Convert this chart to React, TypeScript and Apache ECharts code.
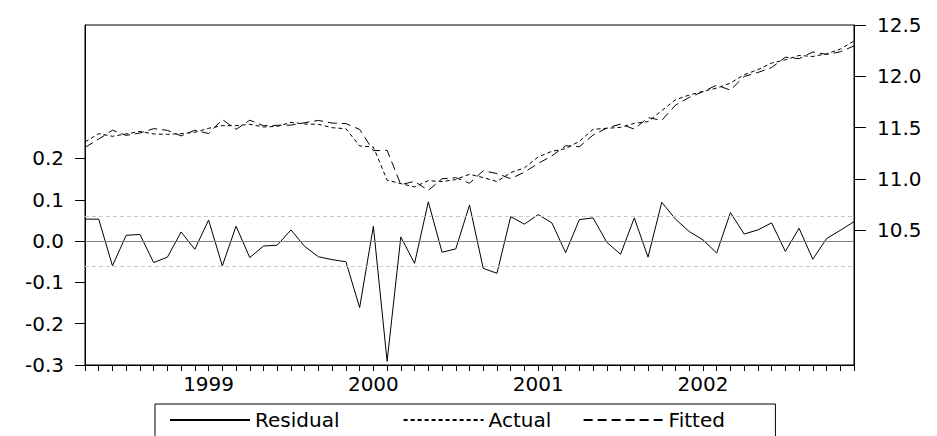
import React, { useEffect, useRef } from "react";
import * as echarts from "echarts";

// Monthly observations 1998M04 .. 2002M12
const categories: string[] = [];
for (let y = 1998; y <= 2002; y++) {
  for (let m = 1; m <= 12; m++) {
    if (y === 1998 && m < 4) continue;
    categories.push(`${y}M${String(m).padStart(2, "0")}`);
  }
}

const residual = [
  0.053, 0.053, -0.060, 0.014, 0.016, -0.052, -0.039, 0.022, -0.020, 0.051,
  -0.060, 0.036, -0.040, -0.012, -0.010, 0.027, -0.013, -0.038, -0.045, -0.050,
  -0.161, 0.036, -0.291, 0.010, -0.054, 0.095, -0.027, -0.019, 0.087, -0.066,
  -0.078, 0.059, 0.041, 0.064, 0.044, -0.028, 0.052, 0.056, -0.003, -0.032,
  0.056, -0.039, 0.094, 0.053, 0.023, 0.003, -0.029, 0.069, 0.017, 0.027,
  0.044, -0.025, 0.031, -0.044, 0.006, 0.026, 0.047,
];

const actual = [
  11.360, 11.441, 11.415, 11.438, 11.463, 11.438, 11.434, 11.441, 11.454, 11.493,
  11.519, 11.519, 11.532, 11.506, 11.512, 11.551, 11.535, 11.532, 11.499, 11.489,
  11.321, 11.311, 10.987, 10.954, 10.922, 10.983, 10.974, 10.993, 11.045, 11.013,
  10.974, 11.061, 11.107, 11.214, 11.269, 11.295, 11.366, 11.483, 11.493, 11.502,
  11.541, 11.558, 11.665, 11.772, 11.817, 11.853, 11.885, 11.934, 12.015, 12.064,
  12.129, 12.161, 12.203, 12.193, 12.219, 12.265, 12.343,
];

const fitted = [
  11.307, 11.388, 11.475, 11.424, 11.447, 11.490, 11.473, 11.419, 11.474, 11.442,
  11.579, 11.483, 11.572, 11.518, 11.522, 11.524, 11.548, 11.570, 11.544, 11.539,
  11.482, 11.275, 11.278, 10.944, 10.976, 10.888, 11.001, 11.012, 10.958, 11.079,
  11.052, 11.002, 11.066, 11.150, 11.225, 11.323, 11.314, 11.427, 11.496, 11.534,
  11.485, 11.597, 11.571, 11.719, 11.794, 11.850, 11.914, 11.865, 11.998, 12.037,
  12.085, 12.186, 12.172, 12.237, 12.213, 12.239, 12.296,
];

const leftTicks = [-0.3, -0.2, -0.1, 0.0, 0.1, 0.2];
const rightTicks = [10.5, 11.0, 11.5, 12.0, 12.5];
const seBand = 0.064;

export default function App() {
  const ref = useRef<HTMLDivElement>(null);
  useEffect(() => {
    if (!ref.current) return;
    const chart = echarts.init(ref.current, undefined, { renderer: "svg" });
    const font = "DejaVu Sans";
    const nb = "\u00a0";
    const legendPad: Record<string, number> = { Residual: 6, Actual: 1, Fitted: 7 };
    chart.setOption({
      animation: false,
      backgroundColor: "#fff",
      textStyle: { fontFamily: font, color: "#000" },
      grid: {
        left: 85,
        top: 25,
        width: 769,
        height: 340,
        show: true,
        borderColor: "#000",
        borderWidth: 1,
        backgroundColor: "transparent",
      },
      legend: {
        left: 155,
        top: 404,
        orient: "horizontal",
        borderColor: "#000",
        borderWidth: 1,
        borderRadius: 0,
        padding: [6, 6, 40, 14],
        itemWidth: 80,
        itemHeight: 14,
        itemGap: 25,
        itemStyle: { opacity: 0 },
        formatter: (name: string) => name + nb.repeat(legendPad[name] || 0),
        textStyle: { fontFamily: font, fontSize: 20, color: "#000" },
        data: ["Residual", "Actual", "Fitted"],
      },
      xAxis: {
        type: "category",
        data: categories,
        boundaryGap: false,
        axisLine: { onZero: false, lineStyle: { color: "#000", width: 1 } },
        axisTick: {
          show: true,
          interval: 0,
          inside: false,
          length: 6,
          lineStyle: { color: "#000" },
        },
        axisLabel: {
          interval: (idx: number, val: string) => val.endsWith("M01"),
          formatter: (val: string) => val.slice(0, 4),
          fontFamily: font,
          fontSize: 20,
          color: "#000",
          margin: 9,
        },
        splitLine: { show: false },
      },
      yAxis: [
        {
          type: "value",
          position: "left",
          min: -0.3,
          max: 0.523,
          axisLine: { show: true, lineStyle: { color: "#000" } },
          axisTick: {
            show: true,
            length: 10,
            customValues: leftTicks,
            lineStyle: { color: "#000" },
          },
          axisLabel: {
            customValues: leftTicks,
            formatter: (v: number) => v.toFixed(1),
            fontFamily: font,
            fontSize: 20,
            color: "#000",
            margin: 21,
          },
          splitLine: { show: false },
        },
        {
          type: "value",
          position: "right",
          min: 9.186,
          max: 12.5,
          axisLine: { show: true, lineStyle: { color: "#000" } },
          axisTick: {
            show: true,
            length: 12,
            customValues: rightTicks,
            lineStyle: { color: "#000" },
          },
          axisLabel: {
            customValues: rightTicks,
            formatter: (v: number) => v.toFixed(1),
            fontFamily: font,
            fontSize: 20,
            color: "#000",
            margin: 23,
          },
          splitLine: { show: false },
        },
      ],
      series: [
        {
          name: "Residual",
          type: "line",
          yAxisIndex: 0,
          data: residual,
          symbol: "none",
          lineStyle: { color: "#000", width: 1, type: "solid" },
          itemStyle: { color: "#000" },
          markLine: {
            silent: true,
            symbol: "none",
            label: { show: false },
            data: [
              { yAxis: 0, lineStyle: { color: "#808080", width: 1, type: "solid" } },
              { yAxis: seBand, lineStyle: { color: "#c8c8c8", width: 1, type: [4, 3] } },
              { yAxis: -seBand, lineStyle: { color: "#c8c8c8", width: 1, type: [4, 3] } },
            ],
          },
          z: 3,
        },
        {
          name: "Actual",
          type: "line",
          yAxisIndex: 1,
          data: actual,
          symbol: "none",
          lineStyle: { color: "#000", width: 1, type: [4, 3] },
          itemStyle: { color: "#000" },
          z: 2,
        },
        {
          name: "Fitted",
          type: "line",
          yAxisIndex: 1,
          data: fitted,
          symbol: "none",
          lineStyle: { color: "#000", width: 1, type: [9, 5] },
          itemStyle: { color: "#000" },
          z: 2,
        },
      ],
    });
    return () => chart.dispose();
  }, []);
  return (
    <div
      ref={ref}
      style={{ position: "fixed", left: 0, top: 0, width: 937, height: 436 }}
    />
  );
}
